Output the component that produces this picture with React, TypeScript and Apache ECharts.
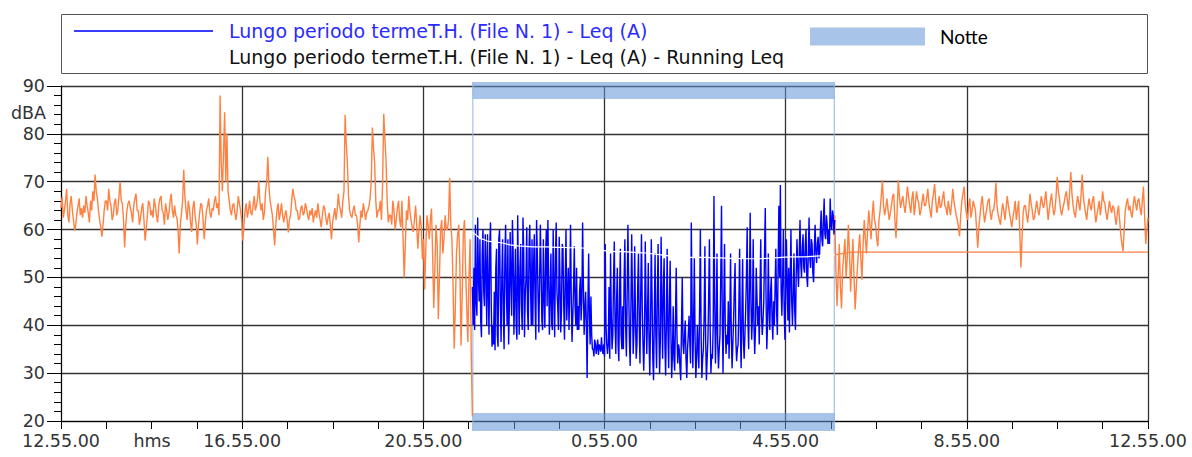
import React, { useEffect, useRef } from 'react';
import * as echarts from 'echarts';

// Time in minutes from 12.55.00
const START_MIN = 12 * 60 + 55;
const DAY_START = 0;
const NIGHT_START = 545; // 22.00.00
const NIGHT_END = 1025; // 6.00.00
const DAY_END = 1440;

const LEQ_NAME = 'Lungo periodo termeT.H. (File N. 1) - Leq (A)';
const RUN_NAME = 'Lungo periodo termeT.H. (File N. 1) - Leq (A) - Running Leq';
const NIGHT_NAME = 'Notte';

// Day levels 12.55 -> 22.00 (dBA)
const dayLevelsBefore = [
  64.5, 66.8, 62.5, 64, 66, 68.5, 63, 61.5, 65.5, 67, 64, 62, 59.8, 61, 63.5, 65, 66.5, 63, 64.5, 62.5,
  65, 63.5, 67, 65, 63.5, 61.5, 66, 64, 68, 66, 71.5, 68, 66.5, 64, 62, 60.5, 58.5, 61, 64, 66,
  66, 64, 68.5, 66, 65, 62, 63, 65.5, 66.5, 63, 64, 67, 70, 66, 65.5, 62, 56.3, 61, 64, 65.5,
  66, 64.5, 63.5, 61.5, 65, 66.5, 67.5, 64, 64, 61, 62.5, 64.5, 65.5, 62, 57.7, 60, 63, 66, 65.5, 63,
  64, 62.5, 66.5, 65, 63, 61.5, 65, 66.5, 67, 64, 63.5, 61, 65.5, 64, 62, 63.5, 66, 67.5, 64, 62.5,
  65, 63, 62.5, 60, 55, 61, 63.5, 66, 72.5, 67, 64, 62, 66, 64.5, 61.5, 59.5, 64.5, 66, 63, 61,
  56.9, 61, 63.5, 65.5, 65, 62, 58, 61.5, 64, 65, 66.5, 63.5, 62.5, 64.5, 64, 66, 67, 64.5, 65.5, 63,
  88, 74, 68, 76, 84.5, 70, 80, 68, 66, 64, 63, 65, 65.5, 63.5, 62, 64, 67, 65.5, 64, 62,
  57.7, 61, 64, 65.5, 62.5, 64, 66, 63.5, 63, 65, 67, 64, 65, 66.5, 70.2, 66, 64, 65.5, 62, 63.5,
  68, 70, 75.2, 69, 66, 64.5, 63, 60, 56.7, 61, 64, 65.5, 62, 63.5, 65.5, 63, 61.5, 63, 64, 62,
  59.4, 62, 63, 66, 68.5, 67, 66, 64, 64, 62, 62.5, 64.5, 65, 63, 63.5, 65.5, 64.5, 63, 62, 64,
  63, 64.5, 61.5, 63, 64, 62.5, 65.5, 63.5, 62, 60.5, 63, 65, 64.5, 62.5, 61, 62.5, 63.5, 61, 58, 61.5,
  63, 64.5, 62, 64, 67.5, 65, 64, 62.5, 66, 68, 84, 78, 74, 67, 64, 63, 62.5, 64, 65, 63,
  63, 61, 57.3, 61, 64, 62.5, 65.5, 64, 62, 63.5, 64, 65, 66.5, 70, 81.3, 77, 73.9, 66, 62.5, 64,
  64, 66, 62, 70, 84.2, 79, 74.5, 66, 61.5, 63, 63, 61, 66, 64, 60, 62, 64.5, 66, 62, 60.5,
  66, 58, 50, 57, 64, 62, 67, 64, 62, 60.5, 59.5, 62, 65, 61, 56, 60, 63, 60.5, 53.8, 58,
  47.5, 56, 63, 61, 58, 62, 64.4, 55, 43.6, 52, 61, 57, 41.3, 50, 60, 62, 55, 58, 63, 60,
  60, 62, 70.8, 61, 58, 48, 35.1, 44, 55, 59, 61, 52, 35.8, 46, 59, 62, 52, 44, 36.5, 50,
  58, 34, 21,
];

// Night levels 22.00 -> 6.00 (dBA)
const nightLevels = [
  48, 40, 52, 39, 61, 45, 42, 62.5, 50, 45, 58, 41, 37.5, 55, 60, 47, 44, 59, 52, 40,
  59, 48, 38, 57, 61.5, 44, 35.5, 40, 36, 47, 34.8, 52, 56, 38, 35.5, 58, 60, 45, 36.5, 50,
  58, 42, 35, 54, 61, 47, 40, 58, 36, 44, 59.5, 50, 42, 62, 55, 38, 47, 56, 40, 37,
  63, 49, 38, 52, 57, 44, 39, 62.5, 55, 37.5, 46, 50, 60.5, 43, 39, 56, 61, 48, 40, 58,
  40, 52, 59, 45, 37, 62, 55, 46, 38.5, 49, 61, 52, 41, 39, 58, 46, 39.5, 55, 60, 44,
  62, 50, 38, 46, 55, 40.5, 39, 60, 48, 37.5, 54, 61.5, 47, 44, 39, 58.5, 50, 38.5, 43, 57,
  56, 44, 37, 50, 60, 41, 46, 52, 39, 48, 61, 45, 36.5, 42, 48, 56.5, 44, 40, 52, 39,
  44, 39, 47, 50, 41, 45, 61.5, 49, 38, 43, 47, 40, 29, 44, 55, 42, 36, 46, 38, 35,
  35, 33.5, 37, 36, 34, 35.5, 37, 33.8, 36, 35.5, 34.5, 37.5, 35, 34, 36, 33.5, 57, 40, 36, 34,
  36, 48, 33, 55, 42, 35, 38, 50, 57.5, 40, 34, 45, 52, 36, 32.5, 47, 56, 38, 35, 44,
  35, 50, 58, 40, 33.5, 46, 61, 49, 37, 31.5, 44, 59, 46, 34, 39, 56.5, 42, 33, 36, 48,
  55, 40, 32, 47, 59, 44, 36, 30.5, 38, 57.5, 45, 34, 42, 53, 37, 29.5, 40, 58, 46, 33,
  28.5, 42, 55, 38, 31, 46, 57, 40, 30, 37, 58.5, 44, 33, 48, 54, 36, 29.5, 41, 56, 39,
  31, 45, 53.5, 38, 29, 34, 44, 33, 30.5, 41, 52, 38, 32, 36, 35, 31, 28.5, 40, 50, 36,
  34, 38, 41, 33, 29, 35, 38, 42, 36.5, 32, 61.5, 45, 31, 40, 54, 37, 29, 33, 40, 35,
  31, 44, 60, 38, 29, 33, 35, 42, 56.5, 37, 28.5, 33, 37, 46, 58, 39, 30, 34, 33, 40,
  67, 45, 32, 40, 55, 36, 31, 35, 38, 50, 65, 42, 30, 44, 57, 40, 34, 38, 36, 45,
  33, 41, 55, 38, 31, 36, 41, 48, 53, 37, 32.5, 35, 36, 44, 56, 39, 31, 42, 54, 37,
  33, 38, 43, 50, 60.5, 41, 35, 48, 63.5, 45, 37, 42, 58, 40, 34, 39, 52, 46, 40, 44,
  36, 47, 58, 42, 38, 41, 45, 55, 64.5, 46, 35, 40, 55, 44, 39, 47, 50, 41, 37, 45,
  40, 48, 56, 43, 38, 52, 65, 50, 69.3, 47, 42, 50, 60, 44, 37, 46, 58, 49, 41, 52,
  38.5, 50, 60, 45, 40, 47, 55, 43, 39, 51, 58, 52, 48, 55, 62, 53, 50, 56, 59, 52,
  51, 57, 60, 50, 48, 55, 62.5, 54, 52, 58, 57, 51, 49, 56, 61, 55, 53, 57, 58.5, 54,
  55, 60, 64, 58, 56.5, 62, 66.5, 59, 58, 63, 61, 57, 60, 57, 66.5, 61, 60, 64, 63, 59,
  62,
];

// Running Leq during the night (dBA)
const runningLeqNight = [
  59.5, 58.2, 57.6, 57.4, 57.2, 56.8, 56.6, 56.5, 56.4, 56.4,
  56.4, 56.3, 56.3, 56.2, 56.2, 56.1, 55.9, 55.7, 55.5, 55.4,
  55.4, 55.3, 55.2, 55.1, 54.9, 54.7, 54.5, 54.4, 54.3, 54.2,
  54.2, 54.2, 54.1, 54.1, 54.0, 54.0, 53.9, 53.9, 53.9, 54.0,
  54.1, 54.2, 54.3, 54.3, 54.3, 54.4, 54.5, 54.6, 54.7,
];

// Day levels 6.00 -> 12.55 (dBA)
const dayLevelsAfter = [
  63, 52, 44, 50, 57, 48, 43.5, 52, 55, 58, 50, 54, 61, 55, 47, 53, 58, 50, 43.3, 48,
  52, 56, 59, 54, 49.5, 57, 62, 58, 55, 60, 64, 61, 58, 63, 66, 62, 61, 58, 56.5, 62,
  64, 67, 70.3, 65, 63, 64.5, 66.5, 64, 62, 63.5, 65, 67, 67.5, 62, 58.2, 64, 70.3, 67, 64.5, 66,
  67, 65, 63.5, 66, 69, 67, 65, 63.5, 66.5, 68, 63, 65, 68, 66.5, 65.5, 63, 64, 66, 67.5, 65,
  65, 66.5, 68.5, 65.5, 64, 62.5, 66, 67.5, 69.5, 66, 63.5, 65, 67, 64.5, 65, 66.5, 68, 65, 64.5, 63,
  66, 64.5, 63, 65.5, 68.5, 66, 64.5, 63, 62, 60.5, 58.6, 63, 66, 67.5, 69, 65, 63.5, 62, 65, 66.5,
  62.5, 64, 66, 65, 64, 60, 56.2, 60.5, 63, 65.5, 67, 64, 61.5, 63, 64.5, 66, 66.5, 63.5, 62, 64,
  64, 66, 69.8, 65, 63, 62, 61, 63.5, 65.5, 64, 62, 64.5, 67, 65, 63.5, 62, 60.5, 62.5, 64, 66,
  62, 64, 66, 60, 52.1, 58, 63.5, 65, 65, 63, 61.5, 64, 67.5, 65.5, 64, 62, 62.5, 64.5, 66, 64,
  63, 65, 67, 65.5, 64.5, 66, 68, 65, 62, 64, 66, 67.5, 65, 63, 64, 67, 71, 68, 66.5, 64,
  63, 64.5, 65.5, 67, 68, 66, 64, 68, 72, 67.5, 65, 63.5, 62.5, 65, 67, 65.5, 64, 67, 71.5, 67,
  65, 63.5, 62, 64.5, 66.5, 65, 64, 66, 67, 64, 61.5, 63, 64.5, 66, 63, 65, 68, 66, 65.5, 63.5,
  62, 64, 66, 64.5, 63.5, 65, 64.5, 62.5, 61, 63.5, 65, 62, 59, 57, 55.5, 60, 64, 65.5, 66.5, 64,
  65, 63.5, 62.5, 65, 67, 65.5, 64, 66, 66.5, 64.5, 63, 66, 69, 63, 57, 60, 62.5,
];

// Running Leq after the night (dBA)
const runningLeqDayTimes = [1025, 1047, 1440];
const runningLeqDay = [54.7, 55.3, 55.3];

const BLUE = '#0000ff';
const ORANGE = '#ff8040';
const BAND = 'rgba(97,148,213,0.55)';
const FONT = 'DejaVu Sans';

function spread(values: number[], t0: number, t1: number) {
  const n = values.length;
  return values.map((v, i) => [t0 + ((t1 - t0) * i) / (n - 1), v]);
}

function fmtTime(v: number) {
  const m = (((START_MIN + v) % 1440) + 1440) % 1440;
  const h = Math.floor(m / 60);
  const mm = Math.round(m % 60);
  return `${h}.${String(mm).padStart(2, '0')}.00`;
}

export default function App() {
  const ref = useRef<HTMLDivElement>(null);
  useEffect(() => {
    if (!ref.current) return;
    const chart = echarts.init(ref.current, undefined, { renderer: 'svg' });
    const option: any = {
      animation: false,
      backgroundColor: '#ffffff',
      textStyle: { fontFamily: FONT },
      grid: { left: 61, right: 44, top: 86, bottom: 36 },
      legend: [
        {
          left: 74, top: 21.5, padding: 0, itemWidth: 139, itemHeight: 2,
          selectedMode: false,
          data: [{ name: LEQ_NAME, icon: 'rect', itemStyle: { color: '#3c3cff' }, textStyle: { color: '#2b2bff' } }],
          textStyle: { fontFamily: FONT, fontSize: 19, padding: [0, 0, 0, 11] },
        },
        {
          left: 74, top: 47.5, padding: 0, itemWidth: 139, itemHeight: 2,
          selectedMode: false,
          data: [{ name: RUN_NAME, icon: 'rect', itemStyle: { color: '#ffffff' }, textStyle: { color: '#111111' } }],
          textStyle: { fontFamily: FONT, fontSize: 19, padding: [0, 0, 0, 11] },
        },
        {
          left: 810, top: 27, padding: 0, itemWidth: 115, itemHeight: 18,
          selectedMode: false,
          data: [{ name: NIGHT_NAME, icon: 'rect' }],
          textStyle: { fontFamily: 'Lato', fontSize: 19, color: '#000', padding: [6, 0, 0, 10] },
        },
      ],
      xAxis: {
        type: 'value', min: DAY_START, max: DAY_END, interval: 240,
        axisLine: { lineStyle: { color: '#000', width: 1 } },
        axisTick: { show: true, length: 8, lineStyle: { color: '#000' } },
        minorTick: { show: true, splitNumber: 4, length: 8, lineStyle: { color: '#000' } },
        splitLine: { show: true, lineStyle: { color: '#333', width: 1.3 } },
        axisLabel: { formatter: fmtTime, fontFamily: FONT, fontSize: 17.5, color: '#333', margin: 11, showMinLabel: true, showMaxLabel: true },
      },
      yAxis: {
        type: 'value', min: 20, max: 90, interval: 10,
        axisLine: { show: true, lineStyle: { color: '#000', width: 1 } },
        axisTick: { show: true, length: 14, lineStyle: { color: '#000' } },
        minorTick: { show: true, splitNumber: 5, length: 7, lineStyle: { color: '#000' } },
        splitLine: { show: true, lineStyle: { color: '#333', width: 1.3 } },
        axisLabel: { fontFamily: FONT, fontSize: 17.5, color: '#333', margin: 16 },
      },
      graphic: [
        { type: 'rect', shape: { x: 61.5, y: 14.5, width: 1086, height: 59 }, style: { fill: 'none', stroke: '#555', lineWidth: 1 } },
        { type: 'text', x: 46, y: 113, style: { text: 'dBA', align: 'right', verticalAlign: 'middle', font: `17.5px "${FONT}"`, fill: '#333' } },
        { type: 'text', x: 152, y: 441, style: { text: 'hms', align: 'center', verticalAlign: 'middle', font: `17.5px "${FONT}"`, fill: '#333' } },
      ],
      series: [
        {
          name: NIGHT_NAME, type: 'custom', z: 1, clip: false, silent: true,
          itemStyle: { color: BAND },
          encode: { x: [0, 1], y: [2, 3] },
          data: [[NIGHT_START, NIGHT_END, 90, 20]],
          renderItem: (params: any, api: any) => {
            const p0 = api.coord([api.value(0), api.value(2)]);
            const p1 = api.coord([api.value(1), api.value(3)]);
            const x0 = p0[0], x1 = p1[0], yTop = p0[1], yBot = p1[1];
            return {
              type: 'group',
              children: [
                { type: 'rect', shape: { x: x0, y: yTop - 4, width: x1 - x0, height: 17 }, style: { fill: BAND } },
                { type: 'rect', shape: { x: x0, y: yBot - 8, width: x1 - x0, height: 18 }, style: { fill: BAND } },
                { type: 'line', shape: { x1: x0 + 0.5, y1: yTop - 4, x2: x0 + 0.5, y2: yBot + 10 }, style: { stroke: '#8db6ea', lineWidth: 1 } },
                { type: 'line', shape: { x1: x1 - 0.5, y1: yTop - 4, x2: x1 - 0.5, y2: yBot + 10 }, style: { stroke: '#8db6ea', lineWidth: 1 } },
              ],
            };
          },
        },
        {
          name: 'day-before', type: 'line', symbol: 'none', z: 2,
          data: spread(dayLevelsBefore, DAY_START, NIGHT_START),
          lineStyle: { color: ORANGE, width: 1.4 }, itemStyle: { color: ORANGE },
        },
        {
          name: LEQ_NAME, type: 'line', symbol: 'none', z: 3,
          data: spread(nightLevels, NIGHT_START, NIGHT_END),
          lineStyle: { color: BLUE, width: 1.4 }, itemStyle: { color: BLUE },
        },
        {
          name: RUN_NAME, type: 'line', symbol: 'none', z: 4,
          data: spread(runningLeqNight, NIGHT_START, NIGHT_END),
          lineStyle: { color: '#ffffff', width: 1.2 }, itemStyle: { color: '#ffffff' },
        },
        {
          name: 'day-after', type: 'line', symbol: 'none', z: 2,
          data: spread(dayLevelsAfter, NIGHT_END, DAY_END),
          lineStyle: { color: ORANGE, width: 1.4 }, itemStyle: { color: ORANGE },
        },
        {
          name: 'running-day', type: 'line', symbol: 'none', z: 2,
          data: runningLeqDayTimes.map((t, i) => [t, runningLeqDay[i]]),
          lineStyle: { color: ORANGE, width: 1.2 }, itemStyle: { color: ORANGE },
        },
      ],
    };
    chart.setOption(option);
    return () => chart.dispose();
  }, []);
  return <div ref={ref} style={{ position: 'fixed', left: 0, top: 0, width: 1192, height: 457, background: '#fff' }} />;
}
